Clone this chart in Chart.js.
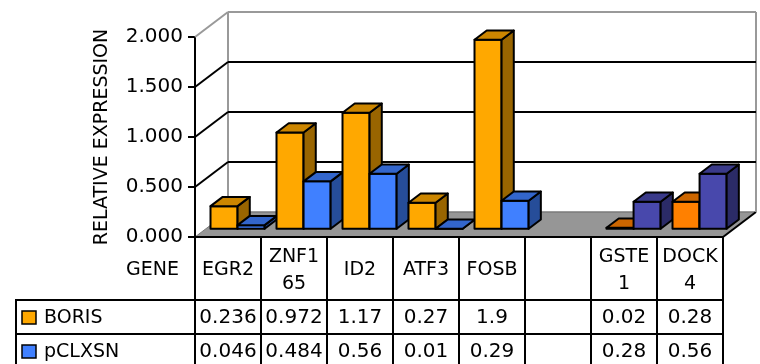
<!DOCTYPE html>
<html>
<head>
<meta charset="utf-8">
<script src="https://cdn.jsdelivr.net/npm/chart.js@4/dist/chart.umd.min.js"></script>
<style>
  html, body { margin: 0; padding: 0; background: #fff; }
  canvas { display: block; }
</style>
</head>
<body>
<canvas id="c" width="760" height="364" style="width:760px;height:364px"></canvas>
<script>
// Gene categories (the blank one is an empty slot on the axis)
const genes = ['EGR2', 'ZNF165', 'ID2', 'ATF3', 'FOSB', '', 'GSTE1', 'DOCK4'];
// Relative expression per construct
const boris   = [0.236, 0.972, 1.17, 0.27, 1.9, null, 0.02, 0.28];
const pclxsn  = [0.046, 0.484, 0.56, 0.01, 0.29, null, 0.28, 0.56];
const seriesNames = ['BORIS', 'pCLXSN'];
// Value axis ticks
const yTicks = [0, 0.5, 1, 1.5, 2];

const FONT = 'DejaVu Sans';
// Perspective of the 3-D box: offset from the front plane to the back wall
const DEPTH = { dx: 33, dy: -25 };
const BAR_FRONT = 0.29, BAR_BACK = 0.66;

function shade(hex, f) {
  const n = parseInt(hex.slice(1), 16);
  const r = Math.round(((n >> 16) & 255) * f);
  const g = Math.round(((n >> 8) & 255) * f);
  const b = Math.round((n & 255) * f);
  return `rgb(${r},${g},${b})`;
}

function poly(ctx, pts, fill, stroke, lw) {
  ctx.beginPath();
  ctx.moveTo(pts[0][0], pts[0][1]);
  for (let i = 1; i < pts.length; i++) ctx.lineTo(pts[i][0], pts[i][1]);
  ctx.closePath();
  if (fill) { ctx.fillStyle = fill; ctx.fill(); }
  if (stroke) { ctx.strokeStyle = stroke; ctx.lineWidth = lw; ctx.stroke(); }
}

function line(ctx, x0, y0, x1, y1, color, lw) {
  ctx.beginPath();
  ctx.moveTo(x0, y0);
  ctx.lineTo(x1, y1);
  ctx.strokeStyle = color;
  ctx.lineWidth = lw;
  ctx.stroke();
}

// Walls, floor and back gridlines of the 3-D plot box
function drawBox(chart) {
  const ctx = chart.ctx;
  const { left, right, top, bottom } = chart.chartArea;
  const y = chart.scales.y;
  const dx = DEPTH.dx, dy = DEPTH.dy;
  ctx.save();
  ctx.lineCap = 'butt';
  // floor
  poly(ctx, [[left, bottom], [right, bottom], [right + dx, bottom + dy], [left + dx, bottom + dy]], '#969696', null);
  line(ctx, left, bottom, left + dx, bottom + dy, '#7a7a7a', 1);
  line(ctx, left + dx, bottom + dy, right + dx, bottom + dy, '#7a7a7a', 1.5);
  line(ctx, right, bottom, right + dx, bottom + dy, '#000', 2);
  // back wall frame
  line(ctx, left + dx, top + dy, left + dx, bottom + dy, '#999', 2);
  line(ctx, right + dx, top + dy, right + dx, bottom + dy, '#999', 2);
  line(ctx, left + dx, top + dy, right + dx, top + dy, '#999', 2);
  line(ctx, left, top, left + dx, top + dy, '#999', 2);
  // gridlines on side and back wall
  yTicks.forEach(v => {
    if (v === 0 || v === 2) return;
    const py = y.getPixelForValue(v);
    line(ctx, left, py, left + dx, py + dy, '#000', 2);
    line(ctx, left + dx, py + dy, right + dx, py + dy, '#000', 2);
  });
  ctx.restore();
}

// 3-D bars built from the bar elements the library laid out
function drawBars(chart) {
  const ctx = chart.ctx;
  const fx = DEPTH.dx * BAR_FRONT, fy = DEPTH.dy * BAR_FRONT;
  const ddx = DEPTH.dx * (BAR_BACK - BAR_FRONT), ddy = DEPTH.dy * (BAR_BACK - BAR_FRONT);
  const metas = chart.data.datasets.map((d, i) => chart.getDatasetMeta(i));
  ctx.save();
  ctx.lineJoin = 'round';
  for (let j = 0; j < genes.length; j++) {
    metas.forEach((meta, i) => {
      const ds = chart.data.datasets[i];
      if (ds.data[j] == null) return;
      const el = meta.data[j];
      const { x, y, base, width } = el.getProps(['x', 'y', 'base', 'width'], true);
      const col = Array.isArray(ds.backgroundColor) ? ds.backgroundColor[j] : ds.backgroundColor;
      const x0 = x - width / 2 + fx, x1 = x + width / 2 + fx;
      const yt = y + fy, yb = base + fy;
      // front face
      poly(ctx, [[x0, yb], [x1, yb], [x1, yt], [x0, yt]], col, '#000', 2);
      // side face
      poly(ctx, [[x1, yb], [x1 + ddx, yb + ddy], [x1 + ddx, yt + ddy], [x1, yt]], shade(col, 0.6), '#000', 2);
      // top face
      poly(ctx, [[x0, yt], [x1, yt], [x1 + ddx, yt + ddy], [x0 + ddx, yt + ddy]], shade(col, 0.8), '#000', 2);
    });
  }
  ctx.restore();
}

function wrapText(ctx, text, maxW) {
  const lines = [];
  let cur = '';
  for (const ch of text) {
    if (cur && ctx.measureText(cur + ch).width > maxW) { lines.push(cur); cur = ch; }
    else cur += ch;
  }
  if (cur) lines.push(cur);
  return lines;
}

// Data table under the plot: gene names, values and legend keys
function drawTable(chart) {
  const ctx = chart.ctx;
  const { left, right, bottom } = chart.chartArea;
  const xs = chart.scales.x;
  const colW = (right - left) / genes.length;
  const headBottom = bottom + 63, row1Bottom = bottom + 97, row2Bottom = bottom + 131;
  const tableLeft = 16;
  ctx.save();
  ctx.lineCap = 'square';
  // grid lines
  line(ctx, left, bottom, right, bottom, '#000', 2);
  for (let k = 0; k <= genes.length; k++) {
    const cx = left + k * colW;
    line(ctx, cx, bottom, cx, row2Bottom, '#000', 2);
  }
  line(ctx, tableLeft, headBottom, right, headBottom, '#000', 2);
  line(ctx, tableLeft, row1Bottom, right, row1Bottom, '#000', 2);
  line(ctx, tableLeft, headBottom, tableLeft, row2Bottom, '#000', 2);

  ctx.fillStyle = '#000';
  ctx.textBaseline = 'middle';
  // header
  const headMid = (bottom + headBottom) / 2 + 2;
  ctx.font = `19px "${FONT}"`;
  ctx.textAlign = 'right';
  ctx.fillText('GENE', left - 16, headMid);
  ctx.textAlign = 'center';
  genes.forEach((g, j) => {
    if (!g) return;
    const cx = xs.getPixelForValue(j);
    const lines = wrapText(ctx, g, colW - 6);
    const lh = 27;
    lines.forEach((t, k) => {
      ctx.fillText(t, cx, headMid + (k - (lines.length - 1) / 2) * lh);
    });
  });
  // value rows with legend keys
  const rows = [[boris, (headBottom + row1Bottom) / 2], [pclxsn, (row1Bottom + row2Bottom) / 2]];
  rows.forEach(([vals, my], i) => {
    const ds = chart.data.datasets[i];
    const key = Array.isArray(ds.backgroundColor) ? ds.backgroundColor[0] : ds.backgroundColor;
    ctx.fillStyle = key;
    ctx.fillRect(22, my - 6, 14, 13);
    ctx.strokeStyle = '#000';
    ctx.lineWidth = 1.5;
    ctx.strokeRect(22, my - 6, 14, 13);
    ctx.fillStyle = '#000';
    ctx.textAlign = 'left';
    ctx.font = `19px "${FONT}"`;
    ctx.fillText(seriesNames[i], 44, my + 1);
    ctx.textAlign = 'center';
    ctx.font = `20px "${FONT}"`;
    vals.forEach((v, j) => {
      if (v == null) return;
      ctx.fillText(String(v), xs.getPixelForValue(j), my + 1);
    });
  });
  ctx.restore();
}

const box3d = {
  id: 'box3d',
  beforeDatasetsDraw(chart) {
    drawBox(chart);
    return false;
  },
  afterDraw(chart) {
    drawBars(chart);
    drawTable(chart);
  }
};

const borisColors = genes.map((g, j) => j >= 6 ? '#FF8000' : '#FFA800');
const pclxsnColors = genes.map((g, j) => j >= 6 ? '#4848AC' : '#4080FF');

new Chart(document.getElementById('c'), {
  type: 'bar',
  data: {
    labels: genes,
    datasets: [
      { label: seriesNames[0], data: boris, backgroundColor: borisColors },
      { label: seriesNames[1], data: pclxsn, backgroundColor: pclxsnColors }
    ]
  },
  options: {
    responsive: false,
    animation: false,
    devicePixelRatio: 1,
    layout: { padding: { top: 37, right: 37, bottom: 127, left: 0 } },
    datasets: { bar: { categoryPercentage: 0.82, barPercentage: 1 } },
    plugins: { legend: { display: false }, tooltip: { enabled: false } },
    scales: {
      x: { display: false, offset: true },
      y: {
        min: 0,
        max: 2,
        afterBuildTicks(s) { s.ticks = yTicks.map(v => ({ value: v })); },
        afterFit(s) { s.width = 195; },
        ticks: {
          callback: v => Number(v).toFixed(3),
          font: { family: FONT, size: 20 },
          color: '#000',
          padding: 5
        },
        grid: { drawOnChartArea: false, drawTicks: true, tickLength: 7, color: '#000', lineWidth: 2 },
        border: { display: true, color: '#000', width: 2 },
        title: {
          display: true,
          text: 'RELATIVE EXPRESSION',
          font: { family: FONT, size: 19 },
          color: '#000',
          padding: { top: 91, bottom: 0 }
        }
      }
    }
  },
  plugins: [box3d]
});
</script>
</body>
</html>
